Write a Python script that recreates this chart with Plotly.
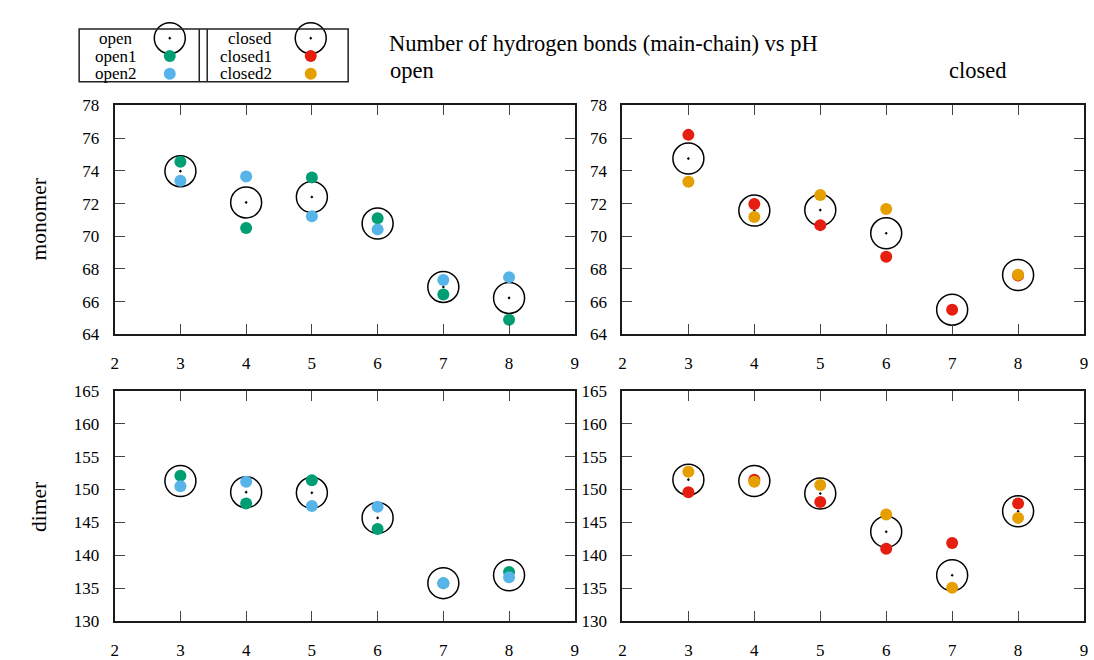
import plotly.graph_objects as go

# pH values shared by every panel
ph = [3, 4, 5, 6, 7, 8]

# Monomer, main-chain hydrogen bonds
mono_open = [73.98, 72.07, 72.40, 70.78, 66.90, 66.23]
mono_open1 = [74.56, 70.50, 73.60, 71.10, 66.44, 64.90]
mono_open2 = [73.39, 73.65, 71.23, 70.42, 67.33, 67.50]
mono_closed = [74.75, 71.57, 71.60, 70.18, 65.51, 67.63]
mono_closed1 = [76.20, 71.97, 70.68, 68.74, 65.51, 67.60]
mono_closed2 = [73.33, 71.18, 72.52, 71.67, None, 67.65]

# Dimer, main-chain hydrogen bonds
dimer_open = [151.3, 149.6, 149.5, 145.7, 135.8, 137.0]
dimer_open1 = [152.1, 147.9, 151.4, 144.0, 135.8, 137.5]
dimer_open2 = [150.5, 151.2, 147.5, 147.4, 135.8, 136.7]
dimer_closed = [151.5, 151.3, 149.4, 143.6, 137.0, 146.7]
dimer_closed1 = [149.6, 151.5, 148.1, 141.0, 141.9, 147.9]
dimer_closed2 = [152.7, 151.2, 150.7, 146.2, 135.1, 145.7]

x_ticks = [2, 3, 4, 5, 6, 7, 8, 9]
mono_ticks = [64, 66, 68, 70, 72, 74, 76, 78]
dimer_ticks = [130, 135, 140, 145, 150, 155, 160, 165]

legend_names = ["open", "open1", "open2", "closed", "closed1", "closed2"]

GREEN = "#009E73"
BLUE = "#56B4E9"
RED = "#E51E10"
ORANGE = "#E69F00"
FONT = "Liberation Serif"

W, H = 1094, 660

fig = go.Figure()

ring = dict(symbol="circle-open-dot", size=31, color="black",
            line=dict(color="black", width=1.5))


def dot(c):
    return dict(symbol="circle", size=12, color=c, line=dict(width=0))


panels = [
    ("x", "y", mono_open, mono_open1, mono_open2, GREEN, BLUE),
    ("x2", "y2", mono_closed, mono_closed1, mono_closed2, RED, ORANGE),
    ("x3", "y3", dimer_open, dimer_open1, dimer_open2, GREEN, BLUE),
    ("x4", "y4", dimer_closed, dimer_closed1, dimer_closed2, RED, ORANGE),
]

for xa, ya, mean, s1, s2, c1, c2 in panels:
    fig.add_trace(go.Scatter(x=ph, y=mean, mode="markers", marker=ring,
                             xaxis=xa, yaxis=ya, showlegend=False, cliponaxis=False))
    fig.add_trace(go.Scatter(x=ph, y=s1, mode="markers", marker=dot(c1),
                             xaxis=xa, yaxis=ya, showlegend=False, cliponaxis=False))
    fig.add_trace(go.Scatter(x=ph, y=s2, mode="markers", marker=dot(c2),
                             xaxis=xa, yaxis=ya, showlegend=False, cliponaxis=False))

# Key symbols drawn on a transparent pixel-space overlay axis
key_x = [167, 167, 167, 309, 309, 309]
key_y = [30, 48.5, 66.7, 30, 48.5, 66.7]
key_markers = [ring, dot(GREEN), dot(BLUE), ring, dot(RED), dot(ORANGE)]
for kx, ky, km in zip(key_x, key_y, key_markers):
    fig.add_trace(go.Scatter(x=[kx], y=[ky], mode="markers", marker=km,
                             xaxis="x5", yaxis="y5", showlegend=False, cliponaxis=False))


def px_x(p):
    return p / W


def px_y(p):
    return 1 - p / H


def axis_common():
    return dict(
        showline=True, mirror="ticks", linecolor="#1a1a1a", linewidth=2,
        ticks="inside", ticklen=10, tickwidth=1.2, tickcolor="#444",
        showgrid=False, zeroline=False,
        tickfont=dict(family=FONT, size=17, color="black"),
    )


left_dom = [px_x(111.5), px_x(575)]
right_dom = [px_x(623), px_x(1088)]
top_dom = [px_y(335), px_y(99.3)]
bot_dom = [px_y(630.5), px_y(393)]


def xaxis(dom, anchor):
    return dict(axis_common(), domain=dom, anchor=anchor, range=[2, 9],
                tickvals=x_ticks, ticktext=[str(t) for t in x_ticks],
                ticklabelstandoff=12)


def yaxis(dom, anchor, rng, tv):
    return dict(axis_common(), domain=dom, anchor=anchor, range=rng,
                tickvals=tv, ticktext=[str(t) for t in tv],
                ticklabelstandoff=10)


annotations = [
    dict(text="Number of hydrogen bonds (main-chain) vs pH", x=px_x(386), y=px_y(36),
         xanchor="left", yanchor="middle", font=dict(size=22.5)),
    dict(text="open", x=px_x(387), y=px_y(63), xanchor="left", yanchor="middle",
         font=dict(size=22.5)),
    dict(text="closed", x=px_x(950), y=px_y(63), xanchor="left", yanchor="middle",
         font=dict(size=22.5)),
    dict(text="monomer", x=px_x(35), y=px_y(217), textangle=-90,
         xanchor="center", yanchor="middle", font=dict(size=21.5)),
    dict(text="dimer", x=px_x(35), y=px_y(513), textangle=-90,
         xanchor="center", yanchor="middle", font=dict(size=21.5)),
]

for name, ky in zip(legend_names[:3], key_y[:3]):
    annotations.append(dict(text=name, x=px_x(113), y=px_y(ky), xanchor="center",
                            yanchor="middle", font=dict(size=17)))
for name, ky in zip(legend_names[3:], key_y[3:]):
    annotations.append(dict(text=name, x=px_x(272), y=px_y(ky), xanchor="right",
                            yanchor="middle", font=dict(size=17)))

for a in annotations:
    a.update(xref="paper", yref="paper", showarrow=False)
    a["font"].update(family=FONT, color="black")

box_line = dict(color="#222", width=1.5)
shapes = [
    dict(type="rect", xref="paper", yref="paper", x0=px_x(75.7), x1=px_x(346.7),
         y0=px_y(75), y1=px_y(20.7), line=box_line),
    dict(type="line", xref="paper", yref="paper", x0=px_x(196.7), x1=px_x(196.7),
         y0=px_y(75), y1=px_y(20.7), line=box_line),
    dict(type="line", xref="paper", yref="paper", x0=px_x(204.7), x1=px_x(204.7),
         y0=px_y(75), y1=px_y(20.7), line=box_line),
]

fig.update_layout(
    width=W, height=H,
    margin=dict(l=0, r=0, t=0, b=0),
    paper_bgcolor="white", plot_bgcolor="rgba(0,0,0,0)",
    font=dict(family=FONT, color="black"),
    xaxis=xaxis(left_dom, "y"),
    yaxis=yaxis(top_dom, "x", [64, 78], mono_ticks),
    xaxis2=xaxis(right_dom, "y2"),
    yaxis2=yaxis(top_dom, "x2", [64, 78], mono_ticks),
    xaxis3=xaxis(left_dom, "y3"),
    yaxis3=yaxis(bot_dom, "x3", [130, 165], dimer_ticks),
    xaxis4=xaxis(right_dom, "y4"),
    yaxis4=yaxis(bot_dom, "x4", [130, 165], dimer_ticks),
    xaxis5=dict(domain=[0, 1], anchor="y5", range=[0, W], visible=False, fixedrange=True),
    yaxis5=dict(domain=[0, 1], anchor="x5", range=[H, 0], visible=False, fixedrange=True),
    annotations=annotations,
    shapes=shapes,
    showlegend=False,
)

fig.write_html("out.html")
